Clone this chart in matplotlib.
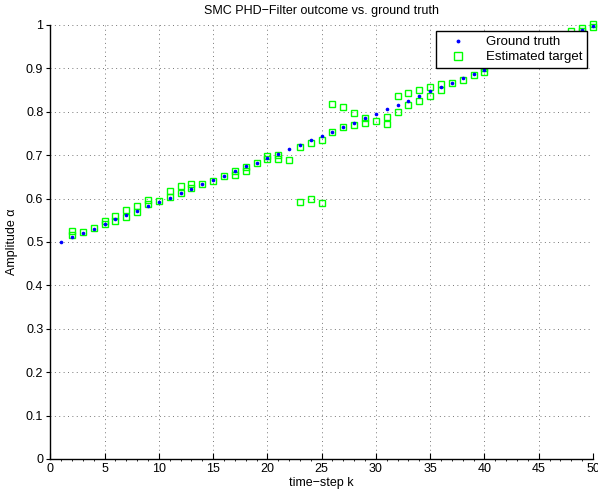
import matplotlib
matplotlib.use("Agg")
import matplotlib.pyplot as plt
from matplotlib.ticker import MultipleLocator

plt.rcParams['font.family'] = ['Liberation Sans', 'DejaVu Sans']

# Ground truth (time step k, amplitude)
truth_k = list(range(1, 51))
truth_a = [0.500, 0.511, 0.521, 0.531, 0.541, 0.552, 0.562, 0.571, 0.583, 0.593,
           0.602, 0.613, 0.623, 0.633, 0.643, 0.653, 0.663, 0.674, 0.683, 0.693,
           0.702, 0.714, 0.723, 0.734, 0.744, 0.754, 0.764, 0.775, 0.786, 0.795,
           0.806, 0.816, 0.826, 0.837, 0.847, 0.857, 0.867, 0.877, 0.887, 0.897,
           0.908, 0.918, 0.928, 0.939, 0.949, 0.959, 0.969, 0.979, 0.988, 0.998]

# Estimated targets (time step k, amplitude)
est_k = [2, 2, 3, 4, 5, 5, 6, 6, 7, 7, 8, 8, 9, 9, 10, 11, 11, 12, 12, 13, 13,
         14, 15, 16, 17, 17, 18, 18, 19, 20, 20, 21, 21, 22, 23, 23, 24, 24,
         25, 25, 26, 26, 27, 27, 28, 28, 29, 29, 30, 31, 31, 32, 32, 33, 33,
         34, 34, 35, 35, 36, 36, 37, 38, 39, 40, 40, 41, 42, 43, 44, 45, 46,
         47, 48, 49, 49, 50, 50]
est_a = [0.526, 0.516, 0.524, 0.532, 0.549, 0.541, 0.561, 0.548, 0.574, 0.557,
         0.584, 0.569, 0.596, 0.588, 0.594, 0.617, 0.603, 0.629, 0.614, 0.633,
         0.625, 0.633, 0.640, 0.653, 0.664, 0.655, 0.673, 0.663, 0.682, 0.698,
         0.692, 0.700, 0.692, 0.690, 0.720, 0.592, 0.728, 0.600, 0.736, 0.590,
         0.753, 0.817, 0.764, 0.810, 0.769, 0.798, 0.786, 0.774, 0.778, 0.789,
         0.772, 0.836, 0.799, 0.844, 0.815, 0.850, 0.825, 0.858, 0.837, 0.865,
         0.851, 0.866, 0.874, 0.885, 0.902, 0.892, 0.910, 0.918, 0.928, 0.939,
         0.949, 0.959, 0.969, 0.986, 0.992, 0.987, 1.002, 0.995]

x_ticks = [0, 5, 10, 15, 20, 25, 30, 35, 40, 45, 50]
y_ticks = [0, 0.1, 0.2, 0.3, 0.4, 0.5, 0.6, 0.7, 0.8, 0.9, 1]
y_tick_labels = ['0', '0.1', '0.2', '0.3', '0.4', '0.5', '0.6', '0.7', '0.8', '0.9', '1']

fig = plt.figure(figsize=(5.98, 4.90), dpi=100)
ax = fig.add_axes([0.0841, 0.0633, 0.9075, 0.8857])

ax.plot(truth_k, truth_a, linestyle='none', marker='.', markersize=3.2,
        color='#0000ff', label='Ground truth', clip_on=False, zorder=3)
ax.plot(est_k, est_a, linestyle='none', marker='s', markersize=4.8,
        markerfacecolor='none', markeredgecolor='#00ff00', markeredgewidth=1.0,
        label='Estimated target', clip_on=False, zorder=2)

ax.set_xlim(0, 50)
ax.set_ylim(0, 1)
ax.set_xticks(x_ticks)
ax.set_xticklabels([str(t) for t in x_ticks])
ax.set_yticks(y_ticks)
ax.set_yticklabels(y_tick_labels)
ax.xaxis.set_minor_locator(MultipleLocator(1))

ax.grid(True, which='major', linestyle=(0, (1, 3.5)), color='#777777', linewidth=0.7)
ax.spines['top'].set_visible(False)
ax.spines['right'].set_visible(False)
ax.spines['left'].set_linewidth(1.0)
ax.spines['bottom'].set_linewidth(1.0)
ax.tick_params(axis='x', which='major', direction='in', length=4, labelsize=9, pad=3)
ax.tick_params(axis='x', which='minor', direction='out', length=1.5, width=0.6)
ax.tick_params(axis='y', which='major', direction='out', length=3, labelsize=9, pad=2)

ax.set_title('SMC PHD\u2212Filter outcome vs. ground truth', fontsize=9, pad=8)
ax.set_xlabel('time\u2212step k', fontsize=9, labelpad=1)
ax.set_ylabel('Amplitude \u03b1', fontsize=9, labelpad=6)

leg = ax.legend(loc='upper right', bbox_to_anchor=(0.989, 0.985), fontsize=9.5,
                frameon=True, fancybox=False, framealpha=1, edgecolor='black',
                borderpad=0.35, handletextpad=0.8, labelspacing=0.2,
                handlelength=2.6, borderaxespad=0, markerscale=1.1)
leg.get_frame().set_linewidth(1.0)
leg.set_zorder(10)

fig.savefig('out.png', dpi=100)
